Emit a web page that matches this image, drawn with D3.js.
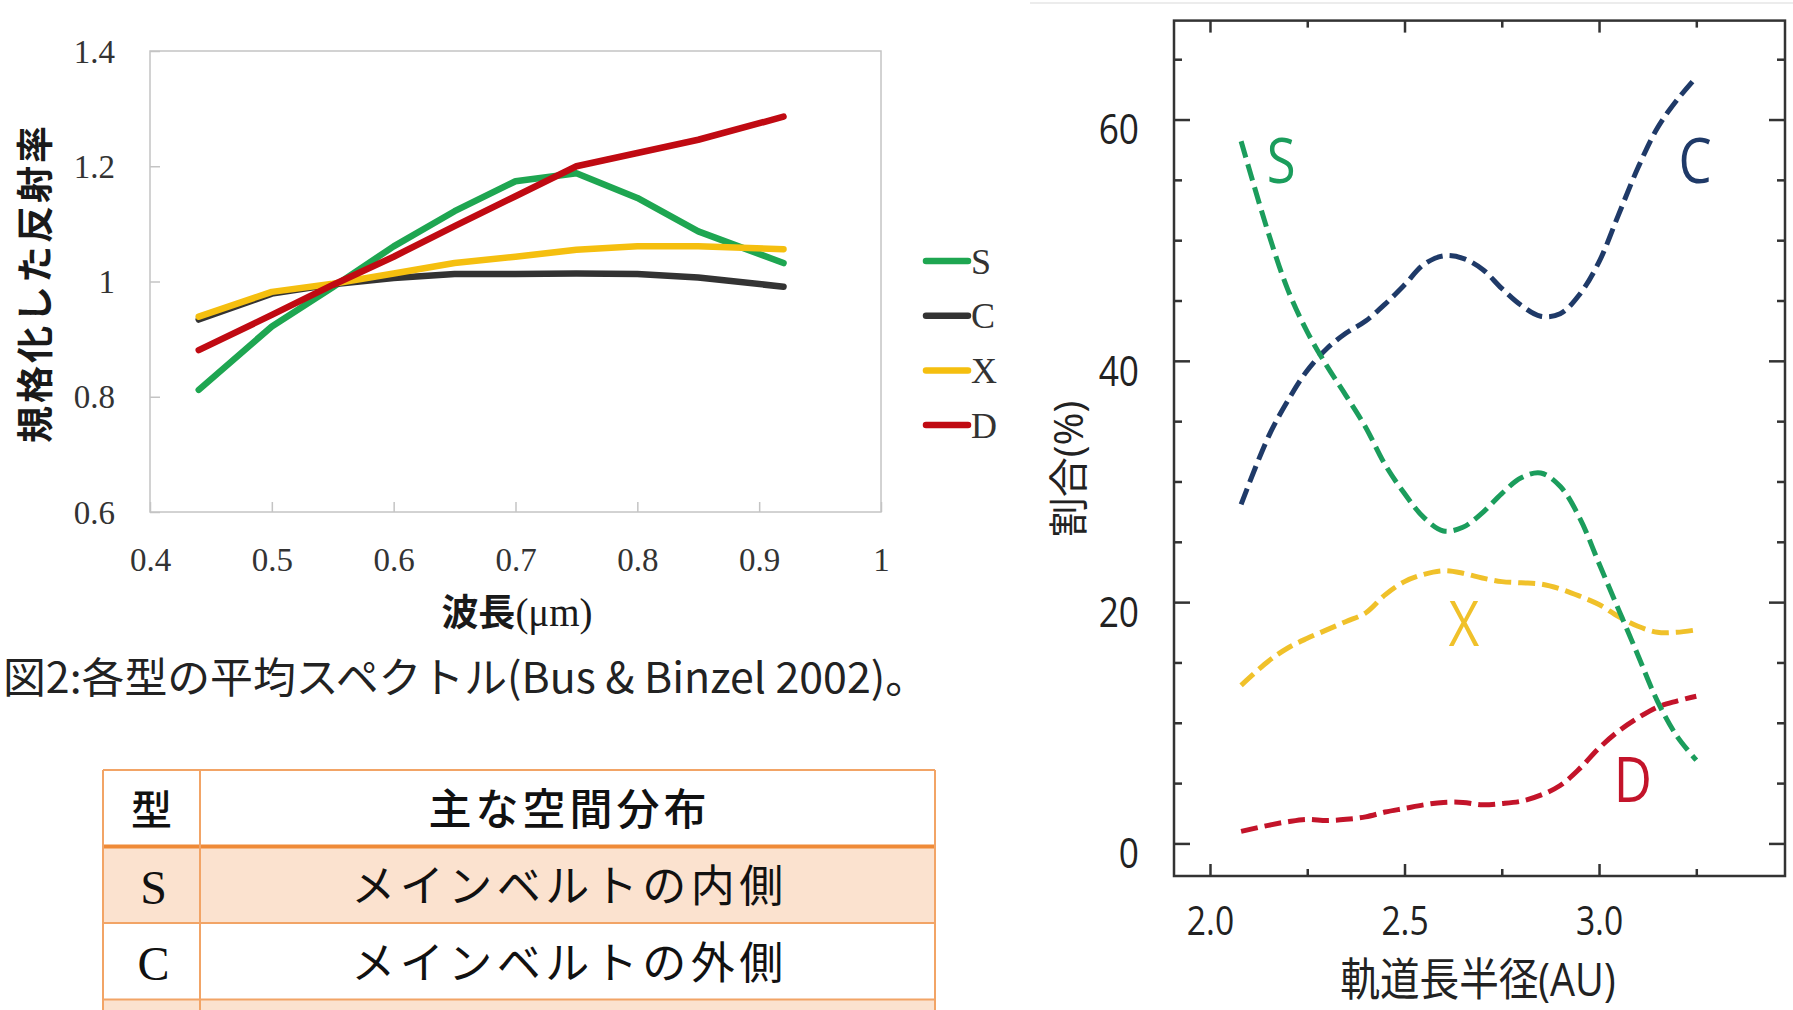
<!DOCTYPE html>
<html>
<head>
<meta charset="utf-8">
<script src="https://cdn.jsdelivr.net/npm/d3@7"></script>
<style>
  html, body { margin: 0; padding: 0; background: #fff; }
  svg { display: block; }
</style>
</head>
<body>
<svg id="fig" width="1793" height="1010"></svg>
<script>
// ---------- Spectra: normalized reflectance vs wavelength ----------
const wavelengths = [0.44, 0.5, 0.55, 0.6, 0.65, 0.7, 0.75, 0.8, 0.85, 0.92];
const spectrumS = [0.812, 0.922, 0.990, 1.061, 1.122, 1.174, 1.188, 1.145, 1.087, 1.032];
const spectrumC = [0.934, 0.979, 0.995, 1.006, 1.013, 1.013, 1.014, 1.013, 1.007, 0.991];
const spectrumX = [0.939, 0.982, 0.996, 1.014, 1.032, 1.043, 1.055, 1.061, 1.061, 1.056];
const spectrumD = [0.881, 0.942, 0.994, 1.043, 1.096, 1.148, 1.200, 1.223, 1.246, 1.286];
const spectrumTypes = ["S", "C", "X", "D"];
const spectrumXTicks = [0.4, 0.5, 0.6, 0.7, 0.8, 0.9, 1.0];
const spectrumYTicks = [0.6, 0.8, 1.0, 1.2, 1.4];

// ---------- Share of each type vs semi-major axis ----------
const orbitAU = [2.08, 2.15, 2.2, 2.25, 2.3, 2.35, 2.4, 2.45, 2.5, 2.55, 2.6, 2.65,
                 2.7, 2.75, 2.8, 2.85, 2.9, 2.95, 3.0, 3.05, 3.1, 3.15, 3.2, 3.25];
const shareS = [58.2, 50.6, 45.9, 42.4, 39.6, 37.1, 34.5, 31.4, 29.0, 27.0, 25.9, 26.2,
                27.4, 29.0, 30.3, 30.7, 29.6, 27.0, 23.2, 19.4, 15.6, 11.8, 8.9, 6.9];
const shareC = [28.1, 33.7, 36.7, 39.2, 41.0, 42.3, 43.3, 44.7, 46.3, 48.0, 48.7, 48.5,
                47.6, 46.0, 44.6, 43.7, 43.9, 45.5, 48.2, 52.1, 56.0, 59.3, 61.6, 63.5];
const shareX = [13.1, 15.1, 16.2, 17.0, 17.7, 18.4, 19.1, 20.6, 21.7, 22.3, 22.6, 22.4,
                22.0, 21.7, 21.6, 21.5, 21.1, 20.5, 19.8, 18.8, 18.0, 17.5, 17.5, 17.7];
const shareD = [1.0, 1.5, 1.8, 2.0, 1.9, 2.0, 2.2, 2.6, 2.9, 3.2, 3.4, 3.4,
                3.2, 3.3, 3.5, 4.0, 4.8, 6.2, 7.9, 9.3, 10.4, 11.3, 11.8, 12.2];
const shareTypes = ["C", "X", "D", "S"];
const shareLabelAU = [3.247, 2.653, 3.087, 2.183];
const shareLabelValue = [56.6, 18.2, 5.3, 56.6];
const shareMajorTicks = [0, 20, 40, 60];
const shareMinorTicks = [5, 10, 15, 25, 30, 35, 45, 50, 55, 65];
const auMajorTicks = [2.0, 2.5, 3.0];
const auMinorTicks = [2.25, 2.75, 3.25];

// ---------- Table of main spatial distribution ----------
const tableHeader = ["型", "主な空間分布"];
const tableTypes = ["S", "C"];
const tableRegions = ["メインベルトの内側", "メインベルトの外側"];

// ---------- styling ----------
const SERIF = "'Liberation Serif', 'DejaVu Serif', serif";
const JP = "'Noto Sans CJK JP', 'Noto Sans', sans-serif";
const SANS = "'Open Sans', 'Noto Sans CJK JP', sans-serif";
const spectrumColors = { S: "#1ea651", C: "#333333", X: "#f5bf0f", D: "#c00a12" };
const shareColors = { S: "#1b9d5c", C: "#1f3a68", X: "#f0c12a", D: "#c3142a" };

const svg = d3.select("#fig");
svg.append("rect").attr("width", 1793).attr("height", 1010).attr("fill", "#fff");

// squeeze text horizontally to a fraction of its natural width
function squeeze(sel, sx) {
  sel.each(function () {
    const w = this.getComputedTextLength();
    d3.select(this).attr("textLength", w * sx).attr("lengthAdjust", "spacingAndGlyphs");
  });
}

// ================= Left: spectra =================
const xL = d3.scaleLinear().domain([0.4, 1.0]).range([150, 881]);
const yL = d3.scaleLinear().domain([0.6, 1.4]).range([512, 51]);

svg.append("rect")
  .attr("x", xL(0.4)).attr("y", yL(1.4))
  .attr("width", xL(1.0) - xL(0.4)).attr("height", yL(0.6) - yL(1.4))
  .attr("fill", "none").attr("stroke", "#c4c4c4").attr("stroke-width", 1.5);

const fmtL = d => (d === 1 ? "1" : d3.format(".1f")(d));

const axL = svg.append("g")
  .attr("transform", `translate(${xL(0.4)},0)`)
  .call(d3.axisLeft(yL).tickValues(spectrumYTicks).tickFormat(fmtL).tickSize(-10).tickPadding(35));
const axB = svg.append("g")
  .attr("transform", `translate(0,${yL(0.6)})`)
  .call(d3.axisBottom(xL).tickValues(spectrumXTicks).tickFormat(fmtL).tickSize(-10).tickPadding(36));
[axL, axB].forEach(g => {
  g.select(".domain").remove();
  g.selectAll(".tick line").attr("stroke", "#c4c4c4").attr("stroke-width", 1.5);
  g.selectAll(".tick text").attr("fill", "#333").attr("font-family", SERIF).attr("font-size", 33);
});
axL.selectAll(".tick text").attr("dy", "0.34em");
axB.selectAll(".tick text").attr("dy", "0.7em");

const lineL = d3.line().x((d, i) => xL(wavelengths[i])).y(d => yL(d));
const spectra = { S: spectrumS, C: spectrumC, X: spectrumX, D: spectrumD };
spectrumTypes.forEach(t => {
  svg.append("path").datum(spectra[t])
    .attr("d", lineL)
    .attr("fill", "none")
    .attr("stroke", spectrumColors[t])
    .attr("stroke-width", 6.5)
    .attr("stroke-linejoin", "round")
    .attr("stroke-linecap", "round");
});

// legend
const legend = svg.append("g").attr("transform", "translate(926,261)");
spectrumTypes.forEach((t, i) => {
  const g = legend.append("g").attr("transform", `translate(0,${i * 54.7})`);
  g.append("line").attr("x1", 0).attr("x2", 42).attr("y1", 0).attr("y2", 0)
    .attr("stroke", spectrumColors[t]).attr("stroke-width", 6.5).attr("stroke-linecap", "round");
  g.append("text").attr("x", 45).attr("y", 0).attr("dy", "0.35em")
    .attr("font-family", SERIF).attr("font-size", 36).attr("fill", "#333").text(t);
});

// axis titles
svg.append("text")
  .attr("transform", "translate(36,283) rotate(-90)")
  .attr("text-anchor", "middle").attr("dy", "0.35em")
  .attr("font-family", JP).attr("font-weight", 700).attr("font-size", 37)
  .attr("letter-spacing", 3).attr("fill", "#1a1a1a")
  .text("規格化した反射率");

const xt = svg.append("text")
  .attr("x", 517).attr("y", 620).attr("dy", "0.35em").attr("text-anchor", "middle")
  .attr("fill", "#1a1a1a");
xt.append("tspan").attr("font-family", JP).attr("font-weight", 700).attr("font-size", 37).text("波長");
xt.append("tspan").attr("font-family", SERIF).attr("font-size", 39).text("(μm)");

// caption
svg.append("text")
  .attr("x", 3).attr("y", 678).attr("dy", "0.35em")
  .attr("font-family", JP).attr("font-size", 42).attr("fill", "#222")
  .attr("textLength", 925).attr("lengthAdjust", "spacingAndGlyphs")
  .text("図2:各型の平均スペクトル(Bus & Binzel 2002)。");

// ================= Table =================
const tbl = { x0: 103, x1: 200, x2: 935, top: 770, rowH: 76.5 };
const bandRows = tableTypes.length + 1;   // last band continues past the page edge
for (let i = 0; i < bandRows; i++) {
  if (i % 2 === 0) {
    svg.append("rect")
      .attr("x", tbl.x0).attr("y", tbl.top + (i + 1) * tbl.rowH)
      .attr("width", tbl.x2 - tbl.x0).attr("height", tbl.rowH)
      .attr("fill", "#fbe2cf");
  }
}
for (let r = 0; r <= bandRows + 1; r++) {
  const y = tbl.top + r * tbl.rowH;
  svg.append("line").attr("x1", tbl.x0).attr("x2", tbl.x2).attr("y1", y).attr("y2", y)
    .attr("stroke", r === 1 ? "#ef8a37" : "#f2a466")
    .attr("stroke-width", r === 1 ? 4 : 2);
}
[tbl.x0, tbl.x1, tbl.x2].forEach(x => {
  svg.append("line").attr("x1", x).attr("x2", x)
    .attr("y1", tbl.top).attr("y2", tbl.top + (bandRows + 1) * tbl.rowH)
    .attr("stroke", "#f2a466").attr("stroke-width", 2);
});
svg.append("text").attr("x", (tbl.x0 + tbl.x1) / 2).attr("y", tbl.top + tbl.rowH / 2 + 2)
  .attr("dy", "0.35em").attr("text-anchor", "middle")
  .attr("font-family", JP).attr("font-weight", 500).attr("font-size", 41).attr("fill", "#111")
  .text(tableHeader[0]);
svg.append("text").attr("x", (tbl.x1 + tbl.x2) / 2 + 2).attr("y", tbl.top + tbl.rowH / 2 + 2)
  .attr("dy", "0.35em").attr("text-anchor", "middle")
  .attr("font-family", JP).attr("font-weight", 500).attr("font-size", 43)
  .attr("letter-spacing", 4).attr("fill", "#111")
  .text(tableHeader[1]);
tableTypes.forEach((t, i) => {
  const cy = tbl.top + (i + 1.5) * tbl.rowH + 2;
  svg.append("text").attr("x", (tbl.x0 + tbl.x1) / 2 + 2).attr("y", cy)
    .attr("dy", "0.35em").attr("text-anchor", "middle")
    .attr("font-family", SERIF).attr("font-size", 48).attr("fill", "#111").text(t);
  svg.append("text").attr("x", (tbl.x1 + tbl.x2) / 2 + 2).attr("y", cy)
    .attr("dy", "0.35em").attr("text-anchor", "middle")
    .attr("font-family", JP).attr("font-weight", 400).attr("font-size", 44)
    .attr("letter-spacing", 4.5).attr("fill", "#111").text(tableRegions[i]);
});

// ================= Right: share vs semi-major axis =================
const xR = d3.scaleLinear().domain([1.9075, 3.478]).range([1174, 1785]);
const yR = d3.scaleLinear().domain([-2.7, 68.2]).range([876, 20.6]);

svg.append("line").attr("x1", 1030).attr("x2", 1793).attr("y1", 3).attr("y2", 3)
  .attr("stroke", "#ececec").attr("stroke-width", 2);

function frameAxis(axisFn, scale, values, size, transform, labels) {
  const g = svg.append("g").attr("transform", transform)
    .call(axisFn(scale).tickValues(values).tickSize(-size)
      .tickFormat(labels ? labels : () => ""));
  g.select(".domain").remove();
  g.selectAll(".tick line").attr("stroke", "#333").attr("stroke-width", 2.5);
  return g;
}
const L = `translate(${xR.range()[0]},0)`;
const Rt = `translate(${xR.range()[1]},0)`;
const T = `translate(0,${yR.range()[1]})`;
const B = `translate(0,${yR.range()[0]})`;

frameAxis(d3.axisLeft, yR, shareMinorTicks, 8, L);
frameAxis(d3.axisRight, yR, shareMinorTicks, 8, Rt);
frameAxis(d3.axisRight, yR, shareMajorTicks, 16, Rt);
frameAxis(d3.axisTop, xR, auMinorTicks, 7, T);
frameAxis(d3.axisTop, xR, auMajorTicks, 12, T);
frameAxis(d3.axisBottom, xR, auMinorTicks, 7, B);

const yLab = frameAxis(d3.axisLeft, yR, shareMajorTicks, 16, L, d => String(d));
yLab.selectAll(".tick text")
  .attr("x", -35).attr("dy", "0.58em")
  .attr("font-family", SANS).attr("font-size", 42).attr("fill", "#222")
  .call(squeeze, 0.84);

const xLab = frameAxis(d3.axisBottom, xR, auMajorTicks, 12, B, d3.format(".1f"));
xLab.selectAll(".tick text")
  .attr("y", 45).attr("dy", "0.35em")
  .attr("font-family", SANS).attr("font-size", 40).attr("fill", "#222")
  .call(squeeze, 0.84);

svg.append("rect")
  .attr("x", xR.range()[0]).attr("y", yR.range()[1])
  .attr("width", xR.range()[1] - xR.range()[0]).attr("height", yR.range()[0] - yR.range()[1])
  .attr("fill", "none").attr("stroke", "#333").attr("stroke-width", 2.5);

const lineR = d3.line()
  .x((d, i) => xR(orbitAU[i])).y(d => yR(d))
  .curve(d3.curveCatmullRom.alpha(0.5));
const shares = { C: shareC, X: shareX, D: shareD, S: shareS };
shareTypes.forEach(t => {
  svg.append("path").datum(shares[t])
    .attr("d", lineR)
    .attr("fill", "none")
    .attr("stroke", shareColors[t])
    .attr("stroke-width", 5)
    .attr("stroke-dasharray", "17,7");
});

// series names next to their curves
shareTypes.forEach((t, i) => {
  svg.append("text")
    .attr("x", xR(shareLabelAU[i])).attr("y", yR(shareLabelValue[i]))
    .attr("dy", "0.36em").attr("text-anchor", "middle")
    .attr("font-family", SANS).attr("font-size", 62).attr("fill", shareColors[t])
    .text(t)
    .call(squeeze, 0.85);
});

// axis titles
svg.append("text")
  .attr("x", 1478).attr("y", 980).attr("dy", "0.35em").attr("text-anchor", "middle")
  .attr("font-family", SANS).attr("font-size", 45).attr("fill", "#222")
  .text("軌道長半径(AU)")
  .call(squeeze, 0.88);
svg.append("text")
  .attr("transform", "translate(1069,469) rotate(-90)")
  .attr("text-anchor", "middle").attr("dy", "0.35em")
  .attr("font-family", SANS).attr("font-size", 40).attr("fill", "#222")
  .text("割合(%)");
</script>
</body>
</html>
